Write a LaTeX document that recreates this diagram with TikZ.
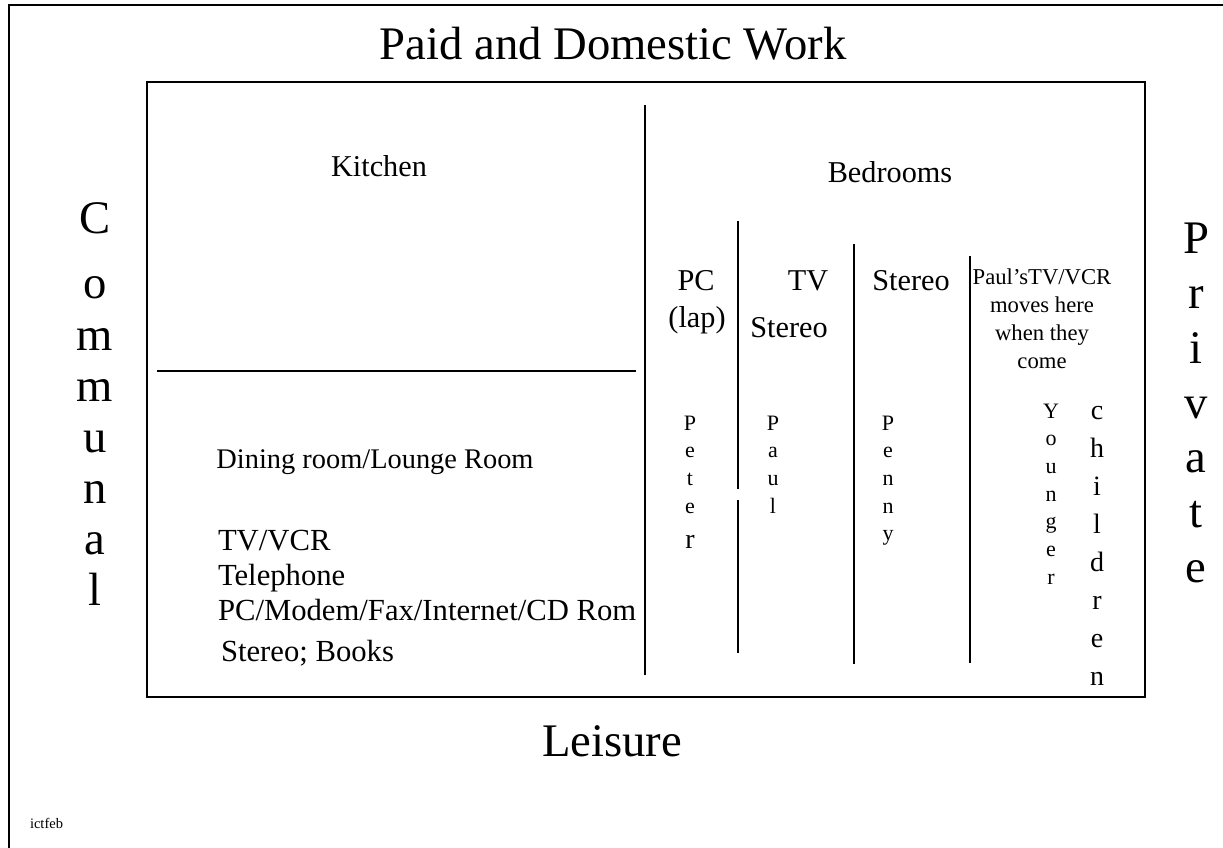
\documentclass[tikz,border=0pt]{standalone}
\usepackage{fontspec}
\setmainfont{Liberation Serif}
\begin{document}
\begin{tikzpicture}[x=0.75pt,y=-0.75pt,
  txt/.style={inner sep=0pt,outer sep=0pt,anchor=base},
  huge/.style={txt,font=\fontsize{35}{40}\selectfont},
  side/.style={txt,font=\fontsize{35}{40}\selectfont},
  room/.style={txt,font=\fontsize{22.7}{26}\selectfont},
  dining/.style={txt,font=\fontsize{21.3}{25}\selectfont},
  items/.style={txt,anchor=base west,font=\fontsize{23}{27}\selectfont},
  note/.style={txt,font=\fontsize{17}{20}\selectfont},
  letter/.style={txt,font=\fontsize{16.5}{19}\selectfont},
  kidletter/.style={txt,font=\fontsize{21}{24}\selectfont},
  tiny/.style={txt,anchor=base west,font=\fontsize{10.9}{13}\selectfont},
  frame/.style={line width=1.5pt},
  wall/.style={line width=1.2pt},
  partition/.style={line width=1.3pt}]
\useasboundingbox (0,0) rectangle (1223,848);

% page frame (top and left edges)
\draw[frame] (9,848) -- (9,5) -- (1223,5);

% house outline
\draw[wall] (147,82) rectangle (1145,697);

% kitchen / living area divider
\draw[partition] (157,371) -- (636,371);

% communal / private divider and bedroom walls
\draw[partition] (645,105) -- (645,675);
\draw[partition] (738,221) -- (738,489);
\draw[partition] (738,500) -- (738,653);
\draw[partition] (854,244) -- (854,664);
\draw[partition] (970,256) -- (970,663);

% axis labels
\node[huge] (work) at (613,60) {Paid and Domestic Work};
\node[huge] (leisure) at (612,756) {Leisure};
\node[side] (communal0) at (95,234) {C};
\foreach \ch [count=\i from 1] in {o,m,m,u,n,a,l}
  \node[side] (communal\i) at (95,{299+51*(\i-1)}) {\ch};
\foreach \ch [count=\i from 0] in {P,r,i,v,a,t,e}
  \node[side] (private\i) at (1196,{254+54.7*\i}) {\ch};

% rooms
\node[room] (kitchen) at (379,177) {Kitchen};
\node[room] (bedrooms) at (890,183) {Bedrooms};
\node[dining] (dining) at (375,468) {Dining room/Lounge Room};
\node[items] (tv) at (218,550) {TV/VCR};
\node[items] (phone) at (218,585) {Telephone};
\node[items] (pc) at (218,620) {PC/Modem/Fax/Internet/CD Rom};
\node[items] (books) at (221,661) {Stereo; Books};

% bedroom contents
\node[room] (pclap) at (696,291) {PC};
\node[room] (lap) at (697,328) {(lap)};
\node[room] (tvpaul) at (808,291) {TV};
\node[room] (stereopaul) at (789,337) {Stereo};
\node[room] (stereopenny) at (911,291) {Stereo};
\foreach \line [count=\i from 0] in {Paul’sTV/VCR,moves here,when they,come}
  \node[note] (visit\i) at (1042,{285+27.8*\i}) {\line};

% occupants, written top to bottom
\foreach \ch [count=\i from 0] in {P,e,t,e}
  \node[letter] (peter\i) at (690,{430+27.7*\i}) {\ch};
\node[txt,font=\fontsize{21}{24}\selectfont] (peter4) at (690,548) {r};
\foreach \ch [count=\i from 0] in {P,a,u,l}
  \node[letter] (paul\i) at (773,{430+27.7*\i}) {\ch};
\foreach \ch [count=\i from 0] in {P,e,n,n,y}
  \node[letter] (penny\i) at (888,{430+27.7*\i}) {\ch};
\foreach \ch [count=\i from 0] in {Y,o,u,n,g,e,r}
  \node[letter] (younger\i) at (1051,{418+27.7*\i}) {\ch};
\foreach \ch [count=\i from 0] in {c,h,i,l,d,r,e,n}
  \node[kidletter] (children\i) at (1097,{419+38*\i}) {\ch};

% file tag
\node[tiny] (tag) at (30,828) {ictfeb};
\end{tikzpicture}
\end{document}
